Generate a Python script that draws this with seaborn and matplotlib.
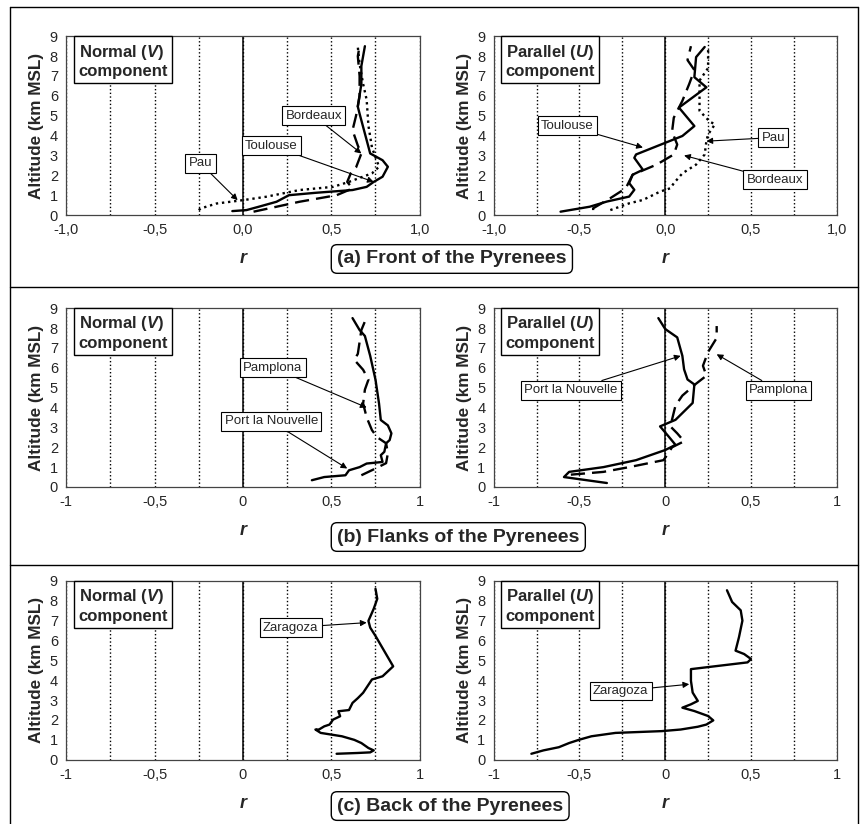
import matplotlib
matplotlib.use("Agg")
import matplotlib.pyplot as plt
import seaborn as sns
import pandas as pd
from matplotlib.lines import Line2D
from matplotlib.ticker import FixedLocator

sns.set_style("white")
plt.rcParams['font.family'] = ['Liberation Sans', 'DejaVu Sans']
plt.rcParams['mathtext.fontset'] = 'custom'
plt.rcParams['mathtext.rm'] = 'Liberation Sans'
plt.rcParams['mathtext.it'] = 'Liberation Sans:italic'
plt.rcParams['mathtext.bf'] = 'Liberation Sans:bold'
plt.rcParams['mathtext.bfit'] = 'Liberation Sans:italic:bold'

# --- data (r, altitude km) ---
# (a) front, normal V
front_v_toulouse_r = [-0.06, 0.02, 0.09, 0.19, 0.26, 0.41, 0.62, 0.70, 0.74, 0.79, 0.82, 0.79, 0.72, 0.70, 0.66, 0.65, 0.67, 0.67, 0.69]
front_v_toulouse_alt = [0.2, 0.25, 0.42, 0.67, 1.0, 1.12, 1.26, 1.42, 1.67, 1.93, 2.43, 2.76, 3.1, 3.77, 5.1, 5.45, 6.6, 7.5, 8.5]
front_v_bordeaux_r = [0.06, 0.19, 0.32, 0.53, 0.62, 0.59, 0.61, 0.64, 0.67, 0.65, 0.62, 0.64, 0.66, 0.66, 0.65, 0.66]
front_v_bordeaux_alt = [0.17, 0.42, 0.67, 1.0, 1.34, 1.67, 2.1, 2.4, 3.1, 3.5, 4.27, 5.0, 6.0, 7.0, 8.0, 8.5]
front_v_pau_r = [-0.25, -0.24, -0.15, 0.0, 0.13, 0.32, 0.51, 0.60, 0.73, 0.77, 0.73, 0.71, 0.70, 0.68, 0.66, 0.65]
front_v_pau_alt = [0.25, 0.33, 0.58, 0.75, 0.92, 1.26, 1.42, 1.67, 2.1, 2.43, 3.4, 4.5, 5.8, 6.6, 7.6, 8.45]

# (a) front, parallel U
front_u_toulouse_r = [-0.61, -0.44, -0.34, -0.21, -0.18, -0.21, -0.19, -0.13, -0.18, -0.17, 0.10, 0.17, 0.08, 0.24, 0.17, 0.18, 0.23]
front_u_toulouse_alt = [0.17, 0.42, 0.68, 0.93, 1.27, 1.61, 2.03, 2.28, 2.88, 3.05, 3.98, 4.48, 5.41, 6.43, 6.94, 7.95, 8.46]
front_u_bordeaux_r = [-0.42, -0.42, -0.32, -0.23, -0.19, -0.05, 0.05, 0.07, 0.04, 0.05, 0.10, 0.14, 0.17, 0.13, 0.15]
front_u_bordeaux_alt = [0.25, 0.34, 0.85, 1.35, 2.03, 2.54, 3.05, 3.55, 4.2, 4.9, 5.75, 6.6, 7.3, 7.8, 8.5]
front_u_pau_r = [-0.32, -0.21, -0.13, -0.03, 0.03, 0.05, 0.10, 0.18, 0.23, 0.24, 0.25, 0.29, 0.26, 0.20, 0.20, 0.25, 0.25]
front_u_pau_alt = [0.25, 0.59, 0.76, 1.18, 1.35, 1.6, 2.1, 2.54, 3.05, 3.72, 4.06, 4.57, 4.7, 5.25, 6.77, 7.4, 8.4]

# (b) flanks, normal V
flank_v_port_r = [0.39, 0.46, 0.58, 0.60, 0.66, 0.70, 0.79, 0.78, 0.80, 0.81, 0.83, 0.84, 0.82, 0.78, 0.77, 0.75, 0.72, 0.69, 0.66, 0.62]
flank_v_port_alt = [0.34, 0.5, 0.59, 0.84, 1.0, 1.18, 1.26, 1.6, 1.77, 2.2, 2.36, 2.7, 3.1, 3.37, 4.2, 5.4, 6.6, 7.6, 7.9, 8.5]
flank_v_pamplona_r = [0.67, 0.75, 0.81, 0.82, 0.81, 0.76, 0.73, 0.70, 0.68, 0.69, 0.71, 0.68, 0.63, 0.65, 0.67, 0.69]
flank_v_pamplona_alt = [0.59, 0.93, 1.2, 1.7, 2.2, 2.5, 2.86, 3.5, 4.2, 4.9, 5.4, 5.9, 6.4, 6.7, 7.9, 8.33]

# (b) flanks, parallel U
flank_u_port_r = [-0.34, -0.59, -0.56, -0.36, -0.17, 0.0, 0.06, 0.02, -0.03, 0.06, 0.10, 0.16, 0.17, 0.13, 0.11, 0.10, 0.07, 0.0, -0.04]
flank_u_port_alt = [0.2, 0.5, 0.76, 1.0, 1.35, 1.86, 2.12, 2.54, 3.05, 3.38, 3.72, 4.23, 5.16, 5.41, 5.92, 6.6, 7.53, 7.95, 8.5]
flank_u_pamplona_r = [-0.55, -0.36, -0.21, -0.01, 0.01, 0.04, 0.11, 0.07, 0.03, 0.04, 0.06, 0.10, 0.18, 0.24, 0.22, 0.25, 0.30, 0.30]
flank_u_pamplona_alt = [0.62, 0.76, 1.0, 1.35, 1.6, 2.0, 2.3, 2.7, 3.05, 3.4, 4.1, 4.6, 5.2, 5.6, 6.1, 6.8, 7.5, 8.1]

# (c) back, normal V
back_v_zaragoza_r = [0.53, 0.65, 0.72, 0.74, 0.71, 0.67, 0.63, 0.56, 0.44, 0.41, 0.43, 0.46, 0.49, 0.51, 0.55, 0.54, 0.60, 0.62, 0.65, 0.68, 0.73, 0.79, 0.85, 0.75, 0.72, 0.71, 0.74, 0.76, 0.75]
back_v_zaragoza_alt = [0.3, 0.34, 0.37, 0.47, 0.59, 0.84, 1.0, 1.18, 1.35, 1.52, 1.52, 1.68, 1.77, 2.02, 2.19, 2.44, 2.5, 2.86, 3.1, 3.37, 4.04, 4.2, 4.7, 6.23, 6.65, 6.99, 7.6, 8.1, 8.6]

# (c) back, parallel U
back_u_zaragoza_r = [-0.78, -0.71, -0.62, -0.56, -0.50, -0.43, -0.29, -0.02, 0.09, 0.19, 0.24, 0.28, 0.25, 0.17, 0.10, 0.15, 0.19, 0.16, 0.15, 0.15, 0.48, 0.50, 0.46, 0.41, 0.43, 0.45, 0.44, 0.39, 0.36]
back_u_zaragoza_alt = [0.3, 0.47, 0.63, 0.84, 1.01, 1.18, 1.35, 1.44, 1.52, 1.66, 1.77, 1.98, 2.2, 2.45, 2.62, 2.79, 2.96, 3.38, 3.97, 4.56, 4.9, 5.07, 5.32, 5.49, 6.17, 7.0, 7.52, 7.94, 8.53]

x_ticks = [-1, -0.5, 0, 0.5, 1]
x_labels_a = ['-1,0', '-0,5', '0,0', '0,5', '1,0']
x_labels_bc = ['-1', '-0,5', '0', '0,5', '1']
row_titles = ['(a) Front of the Pyrenees', '(b) Flanks of the Pyrenees', '(c) Back of the Pyrenees']
normal_label = 'Normal ($\\mathbfit{V}$)\ncomponent'
parallel_label = 'Parallel ($\\mathbfit{U}$)\ncomponent'

styles = {'solid': '', 'dashed': (6, 3), 'dotted': (1, 1.6)}


def make_df(series):
    frames = []
    for name, r, alt, ls in series:
        frames.append(pd.DataFrame({'r': r, 'alt': alt, 'station': name, 'ls': ls}))
    return pd.concat(frames, ignore_index=True)


def panel(ax, series, comp_label, xlabels, notes):
    df = make_df(series)
    dash_map = {name: styles[ls] for name, _, _, ls in series}
    sns.lineplot(data=df, x='r', y='alt', style='station', dashes=dash_map,
                 color='black', lw=1.7, sort=False, estimator=None,
                 legend=False, ax=ax)
    ax.set_xlim(-1, 1)
    ax.set_ylim(0, 9)
    ax.set_yticks(range(10))
    ax.set_xticks(x_ticks)
    ax.set_xticklabels(xlabels)
    ax.xaxis.set_minor_locator(FixedLocator([-0.75, -0.25, 0.25, 0.75]))
    ax.grid(True, which='both', axis='x', ls=':', color='black', lw=1)
    ax.axvline(0, color='black', lw=1.1)
    ax.tick_params(length=0, labelsize=10.5, pad=6)
    for s in ax.spines.values():
        s.set_color('#444444')
        s.set_linewidth(0.9)
    ax.set_xlabel('r', fontsize=13, fontweight='bold', fontstyle='italic', labelpad=9)
    ax.set_ylabel('Altitude (km MSL)', fontsize=12.3, fontweight='bold', labelpad=4)
    ax.text(0.035, 0.965, comp_label, transform=ax.transAxes, ha='left', va='top',
            fontsize=12, fontweight='bold', linespacing=1.2,
            bbox=dict(boxstyle='square,pad=0.25', fc='white', ec='black', lw=1))
    for name, tx, ty, hx, hy in notes:
        ax.annotate(name, xy=(hx, hy), xytext=(tx, ty), textcoords='data',
                    fontsize=9.5, ha='center', va='center', zorder=5,
                    bbox=dict(boxstyle='square,pad=0.25', fc='white', ec='black', lw=0.8),
                    arrowprops=dict(arrowstyle='-|>', color='black', lw=0.8,
                                    mutation_scale=9, shrinkA=0, shrinkB=0))


fig = plt.figure(figsize=(8.6, 8.24), dpi=100)

rows_bottom = [0.739, 0.409, 0.078]
h = 0.217
left_x, left_w = 0.077, 0.411
right_x, right_w = 0.574, 0.399

ax = fig.add_axes([left_x, rows_bottom[0], left_w, h])
panel(ax, [('Toulouse', front_v_toulouse_r, front_v_toulouse_alt, 'solid'),
           ('Bordeaux', front_v_bordeaux_r, front_v_bordeaux_alt, 'dashed'),
           ('Pau', front_v_pau_r, front_v_pau_alt, 'dotted')],
      normal_label, x_labels_a,
      [('Bordeaux', 0.40, 5.0, 0.67, 3.1),
       ('Toulouse', 0.16, 3.5, 0.74, 1.67),
       ('Pau', -0.24, 2.6, -0.03, 0.75)])

ax = fig.add_axes([right_x, rows_bottom[0], right_w, h])
panel(ax, [('Toulouse', front_u_toulouse_r, front_u_toulouse_alt, 'solid'),
           ('Bordeaux', front_u_bordeaux_r, front_u_bordeaux_alt, 'dashed'),
           ('Pau', front_u_pau_r, front_u_pau_alt, 'dotted')],
      parallel_label, x_labels_a,
      [('Toulouse', -0.57, 4.5, -0.13, 3.4),
       ('Pau', 0.63, 3.9, 0.24, 3.72),
       ('Bordeaux', 0.64, 1.78, 0.11, 3.0)])

ax = fig.add_axes([left_x, rows_bottom[1], left_w, h])
panel(ax, [('Port la Nouvelle', flank_v_port_r, flank_v_port_alt, 'solid'),
           ('Pamplona', flank_v_pamplona_r, flank_v_pamplona_alt, 'dashed')],
      normal_label, x_labels_bc,
      [('Pamplona', 0.17, 6.0, 0.70, 4.0),
       ('Port la Nouvelle', 0.16, 3.3, 0.59, 0.93)])

ax = fig.add_axes([right_x, rows_bottom[1], right_w, h])
panel(ax, [('Port la Nouvelle', flank_u_port_r, flank_u_port_alt, 'solid'),
           ('Pamplona', flank_u_pamplona_r, flank_u_pamplona_alt, 'dashed')],
      parallel_label, x_labels_bc,
      [('Port la Nouvelle', -0.55, 4.87, 0.09, 6.6),
       ('Pamplona', 0.66, 4.87, 0.30, 6.68)])

ax = fig.add_axes([left_x, rows_bottom[2], left_w, h])
panel(ax, [('Zaragoza', back_v_zaragoza_r, back_v_zaragoza_alt, 'solid')],
      normal_label, x_labels_bc,
      [('Zaragoza', 0.27, 6.65, 0.70, 6.9)])

ax = fig.add_axes([right_x, rows_bottom[2], right_w, h])
panel(ax, [('Zaragoza', back_u_zaragoza_r, back_u_zaragoza_alt, 'solid')],
      parallel_label, x_labels_bc,
      [('Zaragoza', -0.26, 3.46, 0.14, 3.8)])

# row titles in rounded boxes
for title, y in zip(row_titles, [0.6857, 0.3483, 0.0218]):
    fig.text(0.392, y, title, ha='left', va='center', fontsize=14, fontweight='bold',
             bbox=dict(boxstyle='round,pad=0.3', fc='white', ec='black', lw=1))

# frame and separators
for y in [0.6517, 0.3143]:
    fig.add_artist(Line2D([0.0116, 0.9977], [y, y], color='black', lw=1))
fig.add_artist(Line2D([0.0116, 0.9977], [0.9915, 0.9915], color='black', lw=1))
fig.add_artist(Line2D([0.0116, 0.0116], [0.0, 0.9915], color='black', lw=1))
fig.add_artist(Line2D([0.9977, 0.9977], [0.0, 0.9915], color='black', lw=1))

fig.savefig('out.png', dpi=100)
plt.close(fig)
